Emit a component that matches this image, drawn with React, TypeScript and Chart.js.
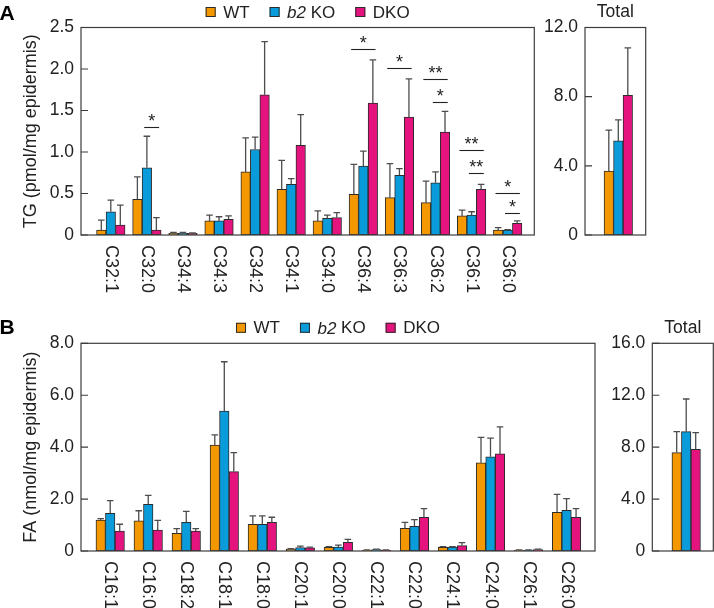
import React, { useEffect, useRef } from 'react';
import { Chart, registerables } from 'chart.js';

Chart.register(...registerables);

const FONT = '"Liberation Sans", Arial, Helvetica, sans-serif';
const TEXT = '#222222';

// ---- series ----
const seriesNames = ['WT', 'b2 KO', 'DKO'];
const seriesColors = ['#F39800', '#0A9BDA', '#E4137D'];

// ---- Panel A: TG ----
const tgCategories = ['C32:1', 'C32:0', 'C34:4', 'C34:3', 'C34:2', 'C34:1', 'C34:0', 'C36:4', 'C36:3', 'C36:2', 'C36:1', 'C36:0'];
const tgWT = [0.06, 0.43, 0.02, 0.17, 0.76, 0.55, 0.17, 0.49, 0.45, 0.39, 0.23, 0.06];
const tgWTsd = [0.12, 0.27, 0.01, 0.07, 0.41, 0.35, 0.12, 0.36, 0.41, 0.26, 0.07, 0.03];
const tgB2 = [0.28, 0.81, 0.02, 0.17, 1.03, 0.61, 0.2, 0.83, 0.72, 0.63, 0.24, 0.06];
const tgB2sd = [0.14, 0.38, 0.01, 0.05, 0.15, 0.07, 0.04, 0.18, 0.08, 0.13, 0.04, 0.005];
const tgDKO = [0.12, 0.06, 0.02, 0.19, 1.69, 1.08, 0.21, 1.59, 1.42, 1.24, 0.55, 0.14];
const tgDKOsd = [0.24, 0.15, 0.005, 0.04, 0.64, 0.37, 0.06, 0.52, 0.46, 0.25, 0.06, 0.03];

const tgTotalCategories = ['Total'];
const tgTotalWT = [3.69];
const tgTotalWTsd = [2.37];
const tgTotalB2 = [5.44];
const tgTotalB2sd = [1.22];
const tgTotalDKO = [8.08];
const tgTotalDKOsd = [2.74];

// significance brackets: category, from series, to series, height (data units), mark
const tgSigCats = ['C32:0', 'C36:4', 'C36:3', 'C36:2', 'C36:2', 'C36:1', 'C36:1', 'C36:0', 'C36:0'];
const tgSigFrom = [1, 0, 0, 0, 1, 0, 1, 0, 1];
const tgSigTo = [2, 2, 2, 2, 2, 2, 2, 2, 2];
const tgSigY = [1.3, 2.24, 2.01, 1.88, 1.6, 1.03, 0.75, 0.51, 0.27];
const tgSigMarks = ['*', '*', '*', '**', '*', '**', '**', '*', '*'];

// ---- Panel B: FA ----
const faCategories = ['C16:1', 'C16:0', 'C18:2', 'C18:1', 'C18:0', 'C20:1', 'C20:0', 'C22:1', 'C22:0', 'C24:1', 'C24:0', 'C26:1', 'C26:0'];
const faWT = [1.19, 1.16, 0.68, 4.08, 1.03, 0.07, 0.14, 0.03, 0.87, 0.14, 3.4, 0.03, 1.49];
const faWTsd = [0.06, 0.39, 0.18, 0.39, 0.32, 0.02, 0.03, 0.01, 0.23, 0.03, 0.98, 0.01, 0.69];
const faB2 = [1.45, 1.8, 1.1, 5.39, 1.03, 0.13, 0.15, 0.05, 0.95, 0.15, 3.63, 0.03, 1.57];
const faB2sd = [0.49, 0.34, 0.43, 1.9, 0.32, 0.06, 0.08, 0.02, 0.26, 0.02, 0.72, 0.01, 0.45];
const faDKO = [0.77, 0.81, 0.77, 3.06, 1.1, 0.12, 0.33, 0.03, 1.3, 0.21, 3.74, 0.05, 1.3];
const faDKOsd = [0.26, 0.37, 0.09, 0.73, 0.2, 0.03, 0.12, 0.01, 0.33, 0.11, 1.04, 0.02, 0.33];

const faTotalCategories = ['Total'];
const faTotalWT = [7.58];
const faTotalWTsd = [1.61];
const faTotalB2 = [9.19];
const faTotalB2sd = [2.52];
const faTotalDKO = [7.83];
const faTotalDKOsd = [1.29];

type Sig = { cat: string; from: number; to: number; y: number; mark: string };

type PanelCfg = {
  categories: string[];
  values: number[][];
  errors: number[][];
  yMax: number;
  yStep: number;
  yTitle?: string;
  xMin: number;
  xMax: number;
  area: { l: number; t: number; r: number; b: number };
  yWidth: number;
  showLabels: boolean;
  legend?: boolean;
  letter?: { text: string; y: number };
  title?: string;
  sig?: Sig[];
};

const W = 714;
const H = 608;

function overlayPlugin(cfg: PanelCfg) {
  return {
    id: 'overlay' + Math.random().toString(36).slice(2),
    afterDatasetsDraw(chart: any) {
      const ctx = chart.ctx as CanvasRenderingContext2D;
      const y = chart.scales.y;
      ctx.save();
      ctx.strokeStyle = '#4d4d4d';
      ctx.lineWidth = 1.3;
      cfg.values.forEach((vals, d) => {
        const meta = chart.getDatasetMeta(d);
        vals.forEach((v, i) => {
          const bar = meta.data[i];
          if (!bar) return;
          const sd = cfg.errors[d][i];
          const top = y.getPixelForValue(v + sd);
          const x = bar.x;
          ctx.beginPath();
          ctx.moveTo(x, bar.y);
          ctx.lineTo(x, top);
          ctx.moveTo(x - 3.3, top);
          ctx.lineTo(x + 3.3, top);
          ctx.stroke();
        });
      });
      ctx.restore();
    },
    afterDraw(chart: any) {
      const ctx = chart.ctx as CanvasRenderingContext2D;
      const { left, right, top, bottom } = chart.chartArea;
      const x = chart.scales.x;
      const y = chart.scales.y;
      ctx.save();
      // frame
      ctx.strokeStyle = '#3c3c3c';
      ctx.lineWidth = 1.2;
      ctx.strokeRect(left, top, right - left, bottom - top);
      // inward ticks
      ctx.beginPath();
      y.ticks.forEach((t: any) => {
        const py = y.getPixelForValue(t.value);
        ctx.moveTo(left, py);
        ctx.lineTo(left + 7, py);
      });
      ctx.stroke();

      // category labels, rotated to read downward
      if (cfg.showLabels) {
        ctx.fillStyle = TEXT;
        ctx.font = `18px ${FONT}`;
        ctx.textAlign = 'left';
        ctx.textBaseline = 'middle';
        cfg.categories.forEach((c, i) => {
          const px = x.getPixelForValue(i);
          ctx.save();
          ctx.translate(px, bottom + 10);
          ctx.rotate(Math.PI / 2);
          ctx.fillText(c, 0, 0);
          ctx.restore();
        });
      }

      // significance brackets
      if (cfg.sig) {
        ctx.strokeStyle = '#222';
        ctx.lineWidth = 1.1;
        ctx.fillStyle = TEXT;
        ctx.font = `18px ${FONT}`;
        ctx.textAlign = 'center';
        ctx.textBaseline = 'alphabetic';
        cfg.sig.forEach((s) => {
          const ci = cfg.categories.indexOf(s.cat);
          const a = chart.getDatasetMeta(s.from).data[ci].x - 2.7;
          const b = chart.getDatasetMeta(s.to).data[ci].x + 2.7;
          const py = Math.round(y.getPixelForValue(s.y)) + 0.5;
          ctx.beginPath();
          ctx.moveTo(a, py);
          ctx.lineTo(b, py);
          ctx.stroke();
          ctx.fillText(s.mark, (a + b) / 2, py - 0.5);
        });
      }

      // legend
      if (cfg.legend) {
        ctx.font = `17px ${FONT}`;
        const italicFont = `italic 17px ${FONT}`;
        const normalFont = `17px ${FONT}`;
        const box = 10;
        const gapText = 7.5;
        const gapItem = 20;
        const parts = seriesNames.map((n) => {
          const m = n.match(/^(b2)(.*)$/);
          return m ? [{ t: m[1], f: italicFont }, { t: m[2], f: normalFont }] : [{ t: n, f: normalFont }];
        });
        const widths = parts.map((p) =>
          p.reduce((acc, seg) => {
            ctx.font = seg.f;
            return acc + ctx.measureText(seg.t).width;
          }, 0)
        );
        const total = widths.reduce((a, w) => a + box + gapText + w, 0) + gapItem * (seriesNames.length - 1);
        let cx = (left + right) / 2 - total / 2;
        const cy = top - 15.5;
        ctx.textAlign = 'left';
        ctx.textBaseline = 'middle';
        parts.forEach((p, i) => {
          ctx.fillStyle = seriesColors[i];
          ctx.fillRect(cx, cy - box / 2, box, box);
          ctx.strokeStyle = '#2b2b2b';
          ctx.lineWidth = 1;
          ctx.strokeRect(cx + 0.5, cy - box / 2 + 0.5, box - 1, box - 1);
          cx += box + gapText;
          ctx.fillStyle = TEXT;
          p.forEach((seg) => {
            ctx.font = seg.f;
            ctx.fillText(seg.t, cx, cy + 1);
            cx += ctx.measureText(seg.t).width;
          });
          cx += gapItem;
        });
      }

      // "Total" title
      if (cfg.title) {
        ctx.fillStyle = TEXT;
        ctx.font = `17.5px ${FONT}`;
        ctx.textAlign = 'center';
        ctx.textBaseline = 'middle';
        ctx.fillText(cfg.title, (left + right) / 2, top - 15.5);
      }

      // panel letter
      if (cfg.letter) {
        ctx.fillStyle = '#000';
        ctx.font = `bold 21px ${FONT}`;
        ctx.textAlign = 'left';
        ctx.textBaseline = 'alphabetic';
        ctx.fillText(cfg.letter.text, -0.5, cfg.letter.y);
      }
      ctx.restore();
    },
  };
}

function buildChart(canvas: HTMLCanvasElement, cfg: PanelCfg) {
  return new Chart(canvas, {
    type: 'bar',
    data: {
      datasets: cfg.values.map((vals, d) => ({
        label: seriesNames[d],
        data: vals.map((v, i) => ({ x: i, y: v })),
        backgroundColor: seriesColors[d],
        borderColor: '#2b2b2b',
        borderWidth: 1,
        borderSkipped: false,
        barThickness: 9.5,
      })),
    } as any,
    options: {
      responsive: false,
      animation: false,
      events: [],
      layout: {
        padding: {
          left: cfg.area.l - cfg.yWidth,
          top: cfg.area.t,
          right: W - cfg.area.r,
          bottom: H - cfg.area.b,
        },
      },
      plugins: {
        legend: { display: false },
        tooltip: { enabled: false },
        title: { display: false },
      },
      scales: {
        x: {
          type: 'linear',
          display: false,
          min: cfg.xMin,
          max: cfg.xMax,
          offset: false,
          bounds: 'data',
          grid: { display: false },
        },
        y: {
          min: 0,
          max: cfg.yMax,
          ticks: {
            stepSize: cfg.yStep,
            padding: 7,
            color: TEXT,
            font: { family: FONT, size: 17.5 },
            callback: (v: any) => (Number(v) === 0 ? '0' : Number(v).toFixed(1)),
          },
          grid: { display: false, drawTicks: false },
          border: { display: false },
          title: cfg.yTitle
            ? {
                display: true,
                text: cfg.yTitle,
                color: TEXT,
                font: { family: FONT, size: 18 },
                padding: { top: 20, bottom: 0 },
              }
            : { display: false },
          afterFit: (s: any) => {
            s.width = cfg.yWidth;
          },
        },
      },
    } as any,
    plugins: [overlayPlugin(cfg) as any],
  });
}

const tgSig: Sig[] = tgSigCats.map((c, i) => ({ cat: c, from: tgSigFrom[i], to: tgSigTo[i], y: tgSigY[i], mark: tgSigMarks[i] }));

const panels: PanelCfg[] = [
  {
    categories: tgCategories,
    values: [tgWT, tgB2, tgDKO],
    errors: [tgWTsd, tgB2sd, tgDKOsd],
    yMax: 2.5,
    yStep: 0.5,
    yTitle: 'TG (pmol/mg epidermis)',
    xMin: -0.826,
    xMax: 11.738,
    area: { l: 81, t: 27.5, r: 534.3, b: 235 },
    yWidth: 81,
    showLabels: true,
    legend: true,
    letter: { text: 'A', y: 19.5 },
    sig: tgSig,
  },
  {
    categories: tgTotalCategories,
    values: [tgTotalWT, tgTotalB2, tgTotalDKO],
    errors: [tgTotalWTsd, tgTotalB2sd, tgTotalDKOsd],
    yMax: 12,
    yStep: 4,
    xMin: -3.33,
    xMax: 2.74,
    area: { l: 585, t: 27.5, r: 645.7, b: 235 },
    yWidth: 45,
    showLabels: false,
    title: 'Total',
  },
  {
    categories: faCategories,
    values: [faWT, faB2, faDKO],
    errors: [faWTsd, faB2sd, faDKOsd],
    yMax: 8,
    yStep: 2,
    yTitle: 'FA (nmol/mg epidermis)',
    xMin: -0.768,
    xMax: 12.748,
    area: { l: 81, t: 343.3, r: 595, b: 551 },
    yWidth: 81,
    showLabels: true,
    legend: true,
    letter: { text: 'B', y: 333.5 },
  },
  {
    categories: faTotalCategories,
    values: [faTotalWT, faTotalB2, faTotalDKO],
    errors: [faTotalWTsd, faTotalB2sd, faTotalDKOsd],
    yMax: 16,
    yStep: 4,
    xMin: -3.39,
    xMax: 2.71,
    area: { l: 652.3, t: 343.3, r: 713.3, b: 551 },
    yWidth: 50,
    showLabels: false,
    title: 'Total',
  },
];

function Panel({ cfg }: { cfg: PanelCfg }) {
  const ref = useRef<HTMLCanvasElement | null>(null);
  useEffect(() => {
    if (!ref.current) return;
    const chart = buildChart(ref.current, cfg);
    return () => chart.destroy();
  }, [cfg]);
  return (
    <canvas
      ref={ref}
      width={W}
      height={H}
      style={{ position: 'absolute', left: 0, top: 0, width: W, height: H }}
    />
  );
}

export default function App() {
  return (
    <div style={{ position: 'absolute', left: 0, top: 0, width: W, height: H, background: '#fff', overflow: 'hidden' }}>
      {panels.map((p, i) => (
        <Panel key={i} cfg={p} />
      ))}
    </div>
  );
}
